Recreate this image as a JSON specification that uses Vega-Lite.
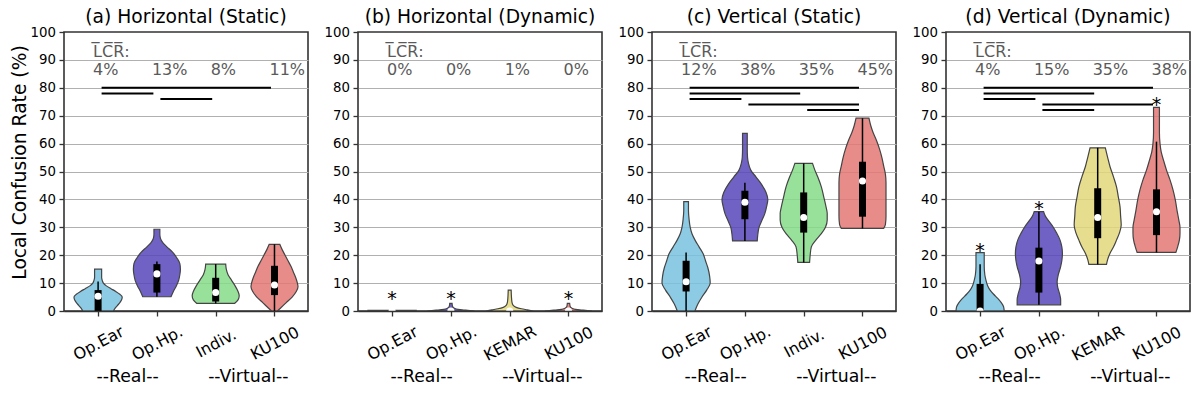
{
  "$schema": "https://vega.github.io/schema/vega-lite/v6.json",
  "padding": {"left": 9, "top": 7, "right": 5, "bottom": 5},
  "spacing": 14,
  "config": {
    "font": "DejaVu Sans",
    "view": {"stroke": "#333333", "strokeWidth": 1.6},
    "axis": {"domainColor": "#333333", "domainWidth": 1.6, "tickColor": "#333333", "tickWidth": 1.3, "tickSize": 5, "labelColor": "#000000", "titleColor": "#000000", "labelFont": "DejaVu Sans", "titleFont": "DejaVu Sans", "titleFontWeight": "normal"},
    "title": {"fontSize": 18.7, "fontWeight": "normal", "font": "DejaVu Sans", "offset": -2, "baseline": "alphabetic", "frame": "group", "color": "#000000"}
  },
  "datasets": {
    "violin": [
      {"p":"a","g":"Op.Ear","i":0,"v":0,"w":0.26},{"p":"a","g":"Op.Ear","i":0,"v":1,"w":0.29},{"p":"a","g":"Op.Ear","i":0,"v":2,"w":0.33},{"p":"a","g":"Op.Ear","i":0,"v":3,"w":0.37},{"p":"a","g":"Op.Ear","i":0,"v":4,"w":0.40},{"p":"a","g":"Op.Ear","i":0,"v":5,"w":0.41},{"p":"a","g":"Op.Ear","i":0,"v":6,"w":0.37},{"p":"a","g":"Op.Ear","i":0,"v":7,"w":0.30},{"p":"a","g":"Op.Ear","i":0,"v":8,"w":0.22},{"p":"a","g":"Op.Ear","i":0,"v":9,"w":0.14},{"p":"a","g":"Op.Ear","i":0,"v":10,"w":0.09},{"p":"a","g":"Op.Ear","i":0,"v":11,"w":0.07},{"p":"a","g":"Op.Ear","i":0,"v":12,"w":0.06},{"p":"a","g":"Op.Ear","i":0,"v":13.5,"w":0.06},{"p":"a","g":"Op.Ear","i":0,"v":15,"w":0.06},
      {"p":"a","g":"Op.Hp.","i":1,"v":5.1,"w":0.24},{"p":"a","g":"Op.Hp.","i":1,"v":7,"w":0.28},{"p":"a","g":"Op.Hp.","i":1,"v":9,"w":0.33},{"p":"a","g":"Op.Hp.","i":1,"v":11,"w":0.37},{"p":"a","g":"Op.Hp.","i":1,"v":13,"w":0.39},{"p":"a","g":"Op.Hp.","i":1,"v":15,"w":0.40},{"p":"a","g":"Op.Hp.","i":1,"v":17,"w":0.39},{"p":"a","g":"Op.Hp.","i":1,"v":19,"w":0.34},{"p":"a","g":"Op.Hp.","i":1,"v":21,"w":0.27},{"p":"a","g":"Op.Hp.","i":1,"v":23,"w":0.17},{"p":"a","g":"Op.Hp.","i":1,"v":24.5,"w":0.10},{"p":"a","g":"Op.Hp.","i":1,"v":26,"w":0.06},{"p":"a","g":"Op.Hp.","i":1,"v":27.5,"w":0.05},{"p":"a","g":"Op.Hp.","i":1,"v":29.3,"w":0.05},
      {"p":"a","g":"Indiv.","i":2,"v":2.7,"w":0.32},{"p":"a","g":"Indiv.","i":2,"v":4,"w":0.38},{"p":"a","g":"Indiv.","i":2,"v":5.5,"w":0.40},{"p":"a","g":"Indiv.","i":2,"v":7,"w":0.38},{"p":"a","g":"Indiv.","i":2,"v":9,"w":0.33},{"p":"a","g":"Indiv.","i":2,"v":11,"w":0.27},{"p":"a","g":"Indiv.","i":2,"v":13,"w":0.21},{"p":"a","g":"Indiv.","i":2,"v":15,"w":0.18},{"p":"a","g":"Indiv.","i":2,"v":16.8,"w":0.17},
      {"p":"a","g":"KU100","i":3,"v":0,"w":0.05},{"p":"a","g":"KU100","i":3,"v":1,"w":0.10},{"p":"a","g":"KU100","i":3,"v":3,"w":0.20},{"p":"a","g":"KU100","i":3,"v":5,"w":0.30},{"p":"a","g":"KU100","i":3,"v":7,"w":0.37},{"p":"a","g":"KU100","i":3,"v":8.7,"w":0.40},{"p":"a","g":"KU100","i":3,"v":10,"w":0.39},{"p":"a","g":"KU100","i":3,"v":12,"w":0.36},{"p":"a","g":"KU100","i":3,"v":14,"w":0.32},{"p":"a","g":"KU100","i":3,"v":16,"w":0.28},{"p":"a","g":"KU100","i":3,"v":18,"w":0.23},{"p":"a","g":"KU100","i":3,"v":20,"w":0.18},{"p":"a","g":"KU100","i":3,"v":22,"w":0.13},{"p":"a","g":"KU100","i":3,"v":23.9,"w":0.09},
      {"p":"b","g":"Op.Ear","i":0,"v":0,"w":0.41},{"p":"b","g":"Op.Ear","i":0,"v":0.2,"w":0.41},
      {"p":"b","g":"Op.Hp.","i":1,"v":0,"w":0.40},{"p":"b","g":"Op.Hp.","i":1,"v":0.3,"w":0.25},{"p":"b","g":"Op.Hp.","i":1,"v":0.6,"w":0.12},{"p":"b","g":"Op.Hp.","i":1,"v":1,"w":0.06},{"p":"b","g":"Op.Hp.","i":1,"v":1.5,"w":0.03},{"p":"b","g":"Op.Hp.","i":1,"v":2.7,"w":0.02},
      {"p":"b","g":"KEMAR","i":2,"v":0,"w":0.40},{"p":"b","g":"KEMAR","i":2,"v":0.4,"w":0.30},{"p":"b","g":"KEMAR","i":2,"v":0.8,"w":0.20},{"p":"b","g":"KEMAR","i":2,"v":1.3,"w":0.11},{"p":"b","g":"KEMAR","i":2,"v":2,"w":0.06},{"p":"b","g":"KEMAR","i":2,"v":3,"w":0.04},{"p":"b","g":"KEMAR","i":2,"v":5,"w":0.03},{"p":"b","g":"KEMAR","i":2,"v":7.5,"w":0.025},
      {"p":"b","g":"KU100","i":3,"v":0,"w":0.40},{"p":"b","g":"KU100","i":3,"v":0.3,"w":0.25},{"p":"b","g":"KU100","i":3,"v":0.6,"w":0.12},{"p":"b","g":"KU100","i":3,"v":1,"w":0.06},{"p":"b","g":"KU100","i":3,"v":1.5,"w":0.03},{"p":"b","g":"KU100","i":3,"v":2.7,"w":0.02},
      {"p":"c","g":"Op.Ear","i":0,"v":0,"w":0.15},{"p":"c","g":"Op.Ear","i":0,"v":2.5,"w":0.20},{"p":"c","g":"Op.Ear","i":0,"v":5,"w":0.27},{"p":"c","g":"Op.Ear","i":0,"v":7.5,"w":0.35},{"p":"c","g":"Op.Ear","i":0,"v":10,"w":0.41},{"p":"c","g":"Op.Ear","i":0,"v":12.5,"w":0.40},{"p":"c","g":"Op.Ear","i":0,"v":15.5,"w":0.37},{"p":"c","g":"Op.Ear","i":0,"v":18,"w":0.33},{"p":"c","g":"Op.Ear","i":0,"v":20.5,"w":0.29},{"p":"c","g":"Op.Ear","i":0,"v":23,"w":0.22},{"p":"c","g":"Op.Ear","i":0,"v":25.5,"w":0.15},{"p":"c","g":"Op.Ear","i":0,"v":27.7,"w":0.10},{"p":"c","g":"Op.Ear","i":0,"v":30,"w":0.07},{"p":"c","g":"Op.Ear","i":0,"v":33,"w":0.05},{"p":"c","g":"Op.Ear","i":0,"v":36,"w":0.04},{"p":"c","g":"Op.Ear","i":0,"v":39.2,"w":0.04},
      {"p":"c","g":"Op.Hp.","i":1,"v":25.1,"w":0.21},{"p":"c","g":"Op.Hp.","i":1,"v":27.5,"w":0.22},{"p":"c","g":"Op.Hp.","i":1,"v":30,"w":0.24},{"p":"c","g":"Op.Hp.","i":1,"v":32.5,"w":0.29},{"p":"c","g":"Op.Hp.","i":1,"v":35,"w":0.34},{"p":"c","g":"Op.Hp.","i":1,"v":37.5,"w":0.37},{"p":"c","g":"Op.Hp.","i":1,"v":40,"w":0.39},{"p":"c","g":"Op.Hp.","i":1,"v":42.5,"w":0.36},{"p":"c","g":"Op.Hp.","i":1,"v":45.5,"w":0.28},{"p":"c","g":"Op.Hp.","i":1,"v":48,"w":0.19},{"p":"c","g":"Op.Hp.","i":1,"v":50.5,"w":0.10},{"p":"c","g":"Op.Hp.","i":1,"v":53,"w":0.06},{"p":"c","g":"Op.Hp.","i":1,"v":55,"w":0.045},{"p":"c","g":"Op.Hp.","i":1,"v":58,"w":0.04},{"p":"c","g":"Op.Hp.","i":1,"v":63.7,"w":0.04},
      {"p":"c","g":"Indiv.","i":2,"v":17.4,"w":0.10},{"p":"c","g":"Indiv.","i":2,"v":20,"w":0.11},{"p":"c","g":"Indiv.","i":2,"v":23,"w":0.13},{"p":"c","g":"Indiv.","i":2,"v":25.5,"w":0.21},{"p":"c","g":"Indiv.","i":2,"v":27.7,"w":0.30},{"p":"c","g":"Indiv.","i":2,"v":30,"w":0.37},{"p":"c","g":"Indiv.","i":2,"v":32.6,"w":0.40},{"p":"c","g":"Indiv.","i":2,"v":35,"w":0.40},{"p":"c","g":"Indiv.","i":2,"v":37.3,"w":0.38},{"p":"c","g":"Indiv.","i":2,"v":41,"w":0.34},{"p":"c","g":"Indiv.","i":2,"v":44.5,"w":0.30},{"p":"c","g":"Indiv.","i":2,"v":48,"w":0.24},{"p":"c","g":"Indiv.","i":2,"v":50.5,"w":0.19},{"p":"c","g":"Indiv.","i":2,"v":52.9,"w":0.15},
      {"p":"c","g":"KU100","i":3,"v":29.6,"w":0.36},{"p":"c","g":"KU100","i":3,"v":31,"w":0.39},{"p":"c","g":"KU100","i":3,"v":34,"w":0.40},{"p":"c","g":"KU100","i":3,"v":38,"w":0.40},{"p":"c","g":"KU100","i":3,"v":42,"w":0.40},{"p":"c","g":"KU100","i":3,"v":46,"w":0.40},{"p":"c","g":"KU100","i":3,"v":49,"w":0.39},{"p":"c","g":"KU100","i":3,"v":52,"w":0.36},{"p":"c","g":"KU100","i":3,"v":55,"w":0.33},{"p":"c","g":"KU100","i":3,"v":58,"w":0.29},{"p":"c","g":"KU100","i":3,"v":61,"w":0.24},{"p":"c","g":"KU100","i":3,"v":64,"w":0.18},{"p":"c","g":"KU100","i":3,"v":66.5,"w":0.14},{"p":"c","g":"KU100","i":3,"v":69.1,"w":0.11},
      {"p":"d","g":"Op.Ear","i":0,"v":0,"w":0.41},{"p":"d","g":"Op.Ear","i":0,"v":1.5,"w":0.40},{"p":"d","g":"Op.Ear","i":0,"v":3,"w":0.36},{"p":"d","g":"Op.Ear","i":0,"v":4.5,"w":0.30},{"p":"d","g":"Op.Ear","i":0,"v":6,"w":0.23},{"p":"d","g":"Op.Ear","i":0,"v":7.5,"w":0.17},{"p":"d","g":"Op.Ear","i":0,"v":9,"w":0.13},{"p":"d","g":"Op.Ear","i":0,"v":11,"w":0.10},{"p":"d","g":"Op.Ear","i":0,"v":13,"w":0.08},{"p":"d","g":"Op.Ear","i":0,"v":16,"w":0.07},{"p":"d","g":"Op.Ear","i":0,"v":18.5,"w":0.07},{"p":"d","g":"Op.Ear","i":0,"v":20.9,"w":0.07},
      {"p":"d","g":"Op.Hp.","i":1,"v":2.2,"w":0.37},{"p":"d","g":"Op.Hp.","i":1,"v":4,"w":0.37},{"p":"d","g":"Op.Hp.","i":1,"v":6.3,"w":0.35},{"p":"d","g":"Op.Hp.","i":1,"v":8.5,"w":0.32},{"p":"d","g":"Op.Hp.","i":1,"v":10.5,"w":0.31},{"p":"d","g":"Op.Hp.","i":1,"v":13,"w":0.33},{"p":"d","g":"Op.Hp.","i":1,"v":15.9,"w":0.37},{"p":"d","g":"Op.Hp.","i":1,"v":18,"w":0.39},{"p":"d","g":"Op.Hp.","i":1,"v":20.7,"w":0.40},{"p":"d","g":"Op.Hp.","i":1,"v":23,"w":0.39},{"p":"d","g":"Op.Hp.","i":1,"v":25.4,"w":0.36},{"p":"d","g":"Op.Hp.","i":1,"v":28,"w":0.30},{"p":"d","g":"Op.Hp.","i":1,"v":30.2,"w":0.24},{"p":"d","g":"Op.Hp.","i":1,"v":32.5,"w":0.16},{"p":"d","g":"Op.Hp.","i":1,"v":34,"w":0.11},{"p":"d","g":"Op.Hp.","i":1,"v":35.6,"w":0.08},
      {"p":"d","g":"KEMAR","i":2,"v":16.7,"w":0.15},{"p":"d","g":"KEMAR","i":2,"v":18.5,"w":0.17},{"p":"d","g":"KEMAR","i":2,"v":20.7,"w":0.21},{"p":"d","g":"KEMAR","i":2,"v":23,"w":0.27},{"p":"d","g":"KEMAR","i":2,"v":25.4,"w":0.32},{"p":"d","g":"KEMAR","i":2,"v":28,"w":0.37},{"p":"d","g":"KEMAR","i":2,"v":30.8,"w":0.40},{"p":"d","g":"KEMAR","i":2,"v":34,"w":0.39},{"p":"d","g":"KEMAR","i":2,"v":37.3,"w":0.38},{"p":"d","g":"KEMAR","i":2,"v":41,"w":0.35},{"p":"d","g":"KEMAR","i":2,"v":44.5,"w":0.32},{"p":"d","g":"KEMAR","i":2,"v":48,"w":0.27},{"p":"d","g":"KEMAR","i":2,"v":51.7,"w":0.21},{"p":"d","g":"KEMAR","i":2,"v":55,"w":0.17},{"p":"d","g":"KEMAR","i":2,"v":58.5,"w":0.13},
      {"p":"d","g":"KU100","i":3,"v":21,"w":0.33},{"p":"d","g":"KU100","i":3,"v":23,"w":0.36},{"p":"d","g":"KU100","i":3,"v":25.5,"w":0.39},{"p":"d","g":"KU100","i":3,"v":28,"w":0.40},{"p":"d","g":"KU100","i":3,"v":30,"w":0.40},{"p":"d","g":"KU100","i":3,"v":32.6,"w":0.38},{"p":"d","g":"KU100","i":3,"v":36,"w":0.35},{"p":"d","g":"KU100","i":3,"v":39.8,"w":0.32},{"p":"d","g":"KU100","i":3,"v":43.5,"w":0.28},{"p":"d","g":"KU100","i":3,"v":47,"w":0.23},{"p":"d","g":"KU100","i":3,"v":50.5,"w":0.17},{"p":"d","g":"KU100","i":3,"v":54,"w":0.12},{"p":"d","g":"KU100","i":3,"v":57,"w":0.08},{"p":"d","g":"KU100","i":3,"v":60,"w":0.06},{"p":"d","g":"KU100","i":3,"v":64,"w":0.05},{"p":"d","g":"KU100","i":3,"v":68,"w":0.05},{"p":"d","g":"KU100","i":3,"v":73,"w":0.05}
    ],
    "box": [
      {"p":"a","i":0,"lo":0,"q1":0,"med":5.3,"q3":7.5,"hi":10.6},
      {"p":"a","i":1,"lo":5.1,"q1":6.6,"med":13.3,"q3":16.8,"hi":17.7},
      {"p":"a","i":2,"lo":2.7,"q1":3.4,"med":6.6,"q3":11.9,"hi":16.8},
      {"p":"a","i":3,"lo":0,"q1":5.7,"med":9.3,"q3":16.2,"hi":23.9},
      {"p":"b","i":0,"lo":0,"q1":0,"med":0,"q3":0,"hi":0},
      {"p":"b","i":1,"lo":0,"q1":0,"med":0,"q3":0,"hi":0},
      {"p":"b","i":2,"lo":0,"q1":0,"med":0,"q3":0,"hi":0},
      {"p":"b","i":3,"lo":0,"q1":0,"med":0,"q3":0,"hi":0},
      {"p":"c","i":0,"lo":0,"q1":7.0,"med":10.5,"q3":18.0,"hi":21.0},
      {"p":"c","i":1,"lo":25.1,"q1":32.9,"med":39.0,"q3":43.1,"hi":46.0},
      {"p":"c","i":2,"lo":17.4,"q1":28.1,"med":33.5,"q3":42.5,"hi":52.9},
      {"p":"c","i":3,"lo":29.6,"q1":33.8,"med":46.6,"q3":53.5,"hi":69.1},
      {"p":"d","i":0,"lo":0,"q1":0,"med":0,"q3":9.7,"hi":16.8},
      {"p":"d","i":1,"lo":2.2,"q1":6.6,"med":17.9,"q3":22.7,"hi":35.6},
      {"p":"d","i":2,"lo":16.7,"q1":26.1,"med":33.5,"q3":44.0,"hi":58.5},
      {"p":"d","i":3,"lo":21.0,"q1":27.2,"med":35.6,"q3":43.6,"hi":60.7}
    ],
    "sig": [
      {"p":"a","from":0,"to":3,"y":80},{"p":"a","from":0,"to":1,"y":78},{"p":"a","from":1,"to":2,"y":76},
      {"p":"c","from":0,"to":3,"y":80},{"p":"c","from":0,"to":2,"y":78},{"p":"c","from":0,"to":1,"y":76},{"p":"c","from":1,"to":3,"y":74},{"p":"c","from":2,"to":3,"y":72},
      {"p":"d","from":0,"to":3,"y":80},{"p":"d","from":0,"to":2,"y":78},{"p":"d","from":0,"to":1,"y":76},{"p":"d","from":1,"to":3,"y":74},{"p":"d","from":1,"to":2,"y":72}
    ],
    "lcr": [
      {"p":"a","i":0,"r":0.04},{"p":"a","i":1,"r":0.13},{"p":"a","i":2,"r":0.08},{"p":"a","i":3,"r":0.11},
      {"p":"b","i":0,"r":0.0},{"p":"b","i":1,"r":0.0},{"p":"b","i":2,"r":0.01},{"p":"b","i":3,"r":0.0},
      {"p":"c","i":0,"r":0.12},{"p":"c","i":1,"r":0.38},{"p":"c","i":2,"r":0.35},{"p":"c","i":3,"r":0.45},
      {"p":"d","i":0,"r":0.04},{"p":"d","i":1,"r":0.15},{"p":"d","i":2,"r":0.35},{"p":"d","i":3,"r":0.38}
    ],
    "star": [
      {"p":"b","i":0,"y":6.0},{"p":"b","i":1,"y":6.0},{"p":"b","i":3,"y":6.0},
      {"p":"d","i":0,"y":23.4},{"p":"d","i":1,"y":38.3},{"p":"d","i":3,"y":75.6}
    ],
    "hdr": [{"p":"a","t":"L̅C̅R̅:"},{"p":"b","t":"L̅C̅R̅:"},{"p":"c","t":"L̅C̅R̅:"},{"p":"d","t":"L̅C̅R̅:"}]
  },
  "hconcat": [
    {
      "width": 244, "height": 279,
      "title": "(a) Horizontal (Static)",
      "resolve": {"axis": {"x": "independent", "y": "independent"}},
      "layer": [
        {"data": {"name": "violin"}, "transform": [{"filter": "datum.p == 'a'"}, {"calculate": "datum.i - datum.w", "as": "xl"}, {"calculate": "datum.i + datum.w", "as": "xr"}],
         "mark": {"type": "area", "orient": "horizontal", "interpolate": "monotone", "stroke": "#444444", "strokeWidth": 1.2, "fillOpacity": 0.85, "clip": true},
         "encoding": {
           "y": {"field": "v", "type": "quantitative", "scale": {"domain": [0, 100], "nice": false}, "axis": {"values": [0,10,20,30,40,50,60,70,80,90,100], "grid": true, "gridColor": {"condition": {"test": "datum.value <= 0 || datum.value >= 100", "value": "rgba(0,0,0,0)"}, "value": "#b0b0b0"}, "gridWidth": 1.1, "domain": false, "labelFontSize": 13.3, "labelPadding": 3.5, "title": "Local Confusion Rate (%)", "titleFontSize": 18.7, "titleX": -39, "titleY": 130, "titleBaseline": "alphabetic", "titleAlign": "center", "titleAngle": -90}},
           "x": {"field": "xl", "type": "quantitative", "scale": {"domain": [-0.58, 3.57], "nice": false, "zero": false}, "axis": {"values": [0,1,2,3], "labelExpr": "['Op.Ear','Op.Hp.','Indiv.','KU100'][datum.value]", "labelAngle": -28, "labelAlign": "center", "labelBaseline": "middle", "labelPadding": 27, "labelFontSize": 16, "labelOverlap": false, "labelFlush": false, "labelBound": false, "grid": false, "zindex": 1, "title": "--Real--\u00a0\u00a0\u00a0\u00a0\u00a0\u00a0\u00a0\u00a0\u00a0--Virtual--", "titleFontSize": 17.3, "titleX": 32, "titleY": 70, "titleAlign": "left", "titleBaseline": "alphabetic"}},
           "x2": {"field": "xr"},
           "color": {"field": "g", "type": "nominal", "scale": {"domain": ["Op.Ear", "Op.Hp.", "Indiv.", "KEMAR", "KU100"], "range": ["#79C2DF", "#5647BA", "#86DC89", "#E3D77A", "#E47875"]}, "legend": null}
         }},
        {"data": {"name": "box"}, "transform": [{"filter": "datum.p == 'a'"}], "mark": {"type": "rule", "color": "#000000", "strokeWidth": 1.5},
         "encoding": {"x": {"field": "i", "type": "quantitative", "axis": null}, "y": {"field": "lo", "type": "quantitative", "axis": null}, "y2": {"field": "hi"}}},
        {"data": {"name": "box"}, "transform": [{"filter": "datum.p == 'a'"}], "mark": {"type": "rule", "color": "#000000", "strokeWidth": 7, "strokeCap": "butt"},
         "encoding": {"x": {"field": "i", "type": "quantitative", "axis": null}, "y": {"field": "q1", "type": "quantitative", "axis": null}, "y2": {"field": "q3"}}},
        {"data": {"name": "box"}, "transform": [{"filter": "datum.p == 'a'"}], "mark": {"type": "point", "filled": true, "color": "#ffffff", "opacity": 1, "size": 50, "clip": true},
         "encoding": {"x": {"field": "i", "type": "quantitative", "axis": null}, "y": {"field": "med", "type": "quantitative", "axis": null}}},
        {"data": {"name": "sig"}, "transform": [{"filter": "datum.p == 'a'"}], "mark": {"type": "rule", "color": "#000000", "strokeWidth": 2, "xOffset": 3.5, "x2Offset": -3.5},
         "encoding": {"x": {"field": "from", "type": "quantitative", "axis": null}, "x2": {"field": "to"}, "y": {"field": "y", "type": "quantitative", "axis": null}}},
        {"data": {"name": "lcr"}, "transform": [{"filter": "datum.p == 'a'"}], "mark": {"type": "text", "align": "left", "baseline": "alphabetic", "dx": -5, "fontSize": 16, "color": "#5a5a5a"},
         "encoding": {"x": {"field": "i", "type": "quantitative", "axis": null}, "y": {"datum": 84.7, "type": "quantitative", "axis": null}, "text": {"field": "r", "type": "quantitative", "format": ".0%"}}},
        {"data": {"name": "hdr"}, "transform": [{"filter": "datum.p == 'a'"}], "mark": {"type": "text", "align": "left", "baseline": "alphabetic", "dx": -5, "fontSize": 16, "color": "#5a5a5a"},
         "encoding": {"x": {"datum": 0, "type": "quantitative", "axis": null}, "y": {"datum": 91, "type": "quantitative", "axis": null}, "text": {"field": "t"}}}
      ]
    },
    {
      "width": 244, "height": 279,
      "title": "(b) Horizontal (Dynamic)",
      "resolve": {"axis": {"x": "independent", "y": "independent"}},
      "layer": [
        {"data": {"name": "violin"}, "transform": [{"filter": "datum.p == 'b'"}, {"calculate": "datum.i - datum.w", "as": "xl"}, {"calculate": "datum.i + datum.w", "as": "xr"}],
         "mark": {"type": "area", "orient": "horizontal", "interpolate": "monotone", "stroke": "#444444", "strokeWidth": 1.2, "fillOpacity": 0.85, "clip": true},
         "encoding": {
           "y": {"field": "v", "type": "quantitative", "scale": {"domain": [0, 100], "nice": false}, "axis": {"values": [0,10,20,30,40,50,60,70,80,90,100], "grid": true, "gridColor": {"condition": {"test": "datum.value <= 0 || datum.value >= 100", "value": "rgba(0,0,0,0)"}, "value": "#b0b0b0"}, "gridWidth": 1.1, "domain": false, "labelFontSize": 13.3, "labelPadding": 3.5, "title": null}},
           "x": {"field": "xl", "type": "quantitative", "scale": {"domain": [-0.58, 3.57], "nice": false, "zero": false}, "axis": {"values": [0,1,2,3], "labelExpr": "['Op.Ear','Op.Hp.','KEMAR','KU100'][datum.value]", "labelAngle": -28, "labelAlign": "center", "labelBaseline": "middle", "labelPadding": 27, "labelFontSize": 16, "labelOverlap": false, "labelFlush": false, "labelBound": false, "grid": false, "zindex": 1, "title": "--Real--\u00a0\u00a0\u00a0\u00a0\u00a0\u00a0\u00a0\u00a0\u00a0--Virtual--", "titleFontSize": 17.3, "titleX": 32, "titleY": 70, "titleAlign": "left", "titleBaseline": "alphabetic"}},
           "x2": {"field": "xr"},
           "color": {"field": "g", "type": "nominal", "scale": {"domain": ["Op.Ear", "Op.Hp.", "Indiv.", "KEMAR", "KU100"], "range": ["#79C2DF", "#5647BA", "#86DC89", "#E3D77A", "#E47875"]}, "legend": null}
         }},
        {"data": {"name": "box"}, "transform": [{"filter": "datum.p == 'b'"}], "mark": {"type": "point", "filled": true, "color": "#ffffff", "opacity": 1, "size": 50, "clip": true},
         "encoding": {"x": {"field": "i", "type": "quantitative", "axis": null}, "y": {"field": "med", "type": "quantitative", "axis": null}}},
        {"data": {"name": "lcr"}, "transform": [{"filter": "datum.p == 'b'"}], "mark": {"type": "text", "align": "left", "baseline": "alphabetic", "dx": -5, "fontSize": 16, "color": "#5a5a5a"},
         "encoding": {"x": {"field": "i", "type": "quantitative", "axis": null}, "y": {"datum": 84.7, "type": "quantitative", "axis": null}, "text": {"field": "r", "type": "quantitative", "format": ".0%"}}},
        {"data": {"name": "hdr"}, "transform": [{"filter": "datum.p == 'b'"}], "mark": {"type": "text", "align": "left", "baseline": "alphabetic", "dx": -5, "fontSize": 16, "color": "#5a5a5a"},
         "encoding": {"x": {"datum": 0, "type": "quantitative", "axis": null}, "y": {"datum": 91, "type": "quantitative", "axis": null}, "text": {"field": "t"}}},
        {"data": {"name": "star"}, "transform": [{"filter": "datum.p == 'b'"}], "mark": {"type": "text", "align": "center", "baseline": "middle", "dy": 5, "fontSize": 19, "color": "#000000"},
         "encoding": {"x": {"field": "i", "type": "quantitative", "axis": null}, "y": {"field": "y", "type": "quantitative", "axis": null}, "text": {"value": "*"}}}
      ]
    },
    {
      "width": 244, "height": 279,
      "title": "(c) Vertical (Static)",
      "resolve": {"axis": {"x": "independent", "y": "independent"}},
      "layer": [
        {"data": {"name": "violin"}, "transform": [{"filter": "datum.p == 'c'"}, {"calculate": "datum.i - datum.w", "as": "xl"}, {"calculate": "datum.i + datum.w", "as": "xr"}],
         "mark": {"type": "area", "orient": "horizontal", "interpolate": "monotone", "stroke": "#444444", "strokeWidth": 1.2, "fillOpacity": 0.85, "clip": true},
         "encoding": {
           "y": {"field": "v", "type": "quantitative", "scale": {"domain": [0, 100], "nice": false}, "axis": {"values": [0,10,20,30,40,50,60,70,80,90,100], "grid": true, "gridColor": {"condition": {"test": "datum.value <= 0 || datum.value >= 100", "value": "rgba(0,0,0,0)"}, "value": "#b0b0b0"}, "gridWidth": 1.1, "domain": false, "labelFontSize": 13.3, "labelPadding": 3.5, "title": null}},
           "x": {"field": "xl", "type": "quantitative", "scale": {"domain": [-0.58, 3.57], "nice": false, "zero": false}, "axis": {"values": [0,1,2,3], "labelExpr": "['Op.Ear','Op.Hp.','Indiv.','KU100'][datum.value]", "labelAngle": -28, "labelAlign": "center", "labelBaseline": "middle", "labelPadding": 27, "labelFontSize": 16, "labelOverlap": false, "labelFlush": false, "labelBound": false, "grid": false, "zindex": 1, "title": "--Real--\u00a0\u00a0\u00a0\u00a0\u00a0\u00a0\u00a0\u00a0\u00a0--Virtual--", "titleFontSize": 17.3, "titleX": 32, "titleY": 70, "titleAlign": "left", "titleBaseline": "alphabetic"}},
           "x2": {"field": "xr"},
           "color": {"field": "g", "type": "nominal", "scale": {"domain": ["Op.Ear", "Op.Hp.", "Indiv.", "KEMAR", "KU100"], "range": ["#79C2DF", "#5647BA", "#86DC89", "#E3D77A", "#E47875"]}, "legend": null}
         }},
        {"data": {"name": "box"}, "transform": [{"filter": "datum.p == 'c'"}], "mark": {"type": "rule", "color": "#000000", "strokeWidth": 1.5},
         "encoding": {"x": {"field": "i", "type": "quantitative", "axis": null}, "y": {"field": "lo", "type": "quantitative", "axis": null}, "y2": {"field": "hi"}}},
        {"data": {"name": "box"}, "transform": [{"filter": "datum.p == 'c'"}], "mark": {"type": "rule", "color": "#000000", "strokeWidth": 7, "strokeCap": "butt"},
         "encoding": {"x": {"field": "i", "type": "quantitative", "axis": null}, "y": {"field": "q1", "type": "quantitative", "axis": null}, "y2": {"field": "q3"}}},
        {"data": {"name": "box"}, "transform": [{"filter": "datum.p == 'c'"}], "mark": {"type": "point", "filled": true, "color": "#ffffff", "opacity": 1, "size": 50, "clip": true},
         "encoding": {"x": {"field": "i", "type": "quantitative", "axis": null}, "y": {"field": "med", "type": "quantitative", "axis": null}}},
        {"data": {"name": "sig"}, "transform": [{"filter": "datum.p == 'c'"}], "mark": {"type": "rule", "color": "#000000", "strokeWidth": 2, "xOffset": 3.5, "x2Offset": -3.5},
         "encoding": {"x": {"field": "from", "type": "quantitative", "axis": null}, "x2": {"field": "to"}, "y": {"field": "y", "type": "quantitative", "axis": null}}},
        {"data": {"name": "lcr"}, "transform": [{"filter": "datum.p == 'c'"}], "mark": {"type": "text", "align": "left", "baseline": "alphabetic", "dx": -5, "fontSize": 16, "color": "#5a5a5a"},
         "encoding": {"x": {"field": "i", "type": "quantitative", "axis": null}, "y": {"datum": 84.7, "type": "quantitative", "axis": null}, "text": {"field": "r", "type": "quantitative", "format": ".0%"}}},
        {"data": {"name": "hdr"}, "transform": [{"filter": "datum.p == 'c'"}], "mark": {"type": "text", "align": "left", "baseline": "alphabetic", "dx": -5, "fontSize": 16, "color": "#5a5a5a"},
         "encoding": {"x": {"datum": 0, "type": "quantitative", "axis": null}, "y": {"datum": 91, "type": "quantitative", "axis": null}, "text": {"field": "t"}}}
      ]
    },
    {
      "width": 244, "height": 279,
      "title": "(d) Vertical (Dynamic)",
      "resolve": {"axis": {"x": "independent", "y": "independent"}},
      "layer": [
        {"data": {"name": "violin"}, "transform": [{"filter": "datum.p == 'd'"}, {"calculate": "datum.i - datum.w", "as": "xl"}, {"calculate": "datum.i + datum.w", "as": "xr"}],
         "mark": {"type": "area", "orient": "horizontal", "interpolate": "monotone", "stroke": "#444444", "strokeWidth": 1.2, "fillOpacity": 0.85, "clip": true},
         "encoding": {
           "y": {"field": "v", "type": "quantitative", "scale": {"domain": [0, 100], "nice": false}, "axis": {"values": [0,10,20,30,40,50,60,70,80,90,100], "grid": true, "gridColor": {"condition": {"test": "datum.value <= 0 || datum.value >= 100", "value": "rgba(0,0,0,0)"}, "value": "#b0b0b0"}, "gridWidth": 1.1, "domain": false, "labelFontSize": 13.3, "labelPadding": 3.5, "title": null}},
           "x": {"field": "xl", "type": "quantitative", "scale": {"domain": [-0.58, 3.57], "nice": false, "zero": false}, "axis": {"values": [0,1,2,3], "labelExpr": "['Op.Ear','Op.Hp.','KEMAR','KU100'][datum.value]", "labelAngle": -28, "labelAlign": "center", "labelBaseline": "middle", "labelPadding": 27, "labelFontSize": 16, "labelOverlap": false, "labelFlush": false, "labelBound": false, "grid": false, "zindex": 1, "title": "--Real--\u00a0\u00a0\u00a0\u00a0\u00a0\u00a0\u00a0\u00a0\u00a0--Virtual--", "titleFontSize": 17.3, "titleX": 32, "titleY": 70, "titleAlign": "left", "titleBaseline": "alphabetic"}},
           "x2": {"field": "xr"},
           "color": {"field": "g", "type": "nominal", "scale": {"domain": ["Op.Ear", "Op.Hp.", "Indiv.", "KEMAR", "KU100"], "range": ["#79C2DF", "#5647BA", "#86DC89", "#E3D77A", "#E47875"]}, "legend": null}
         }},
        {"data": {"name": "box"}, "transform": [{"filter": "datum.p == 'd'"}], "mark": {"type": "rule", "color": "#000000", "strokeWidth": 1.5},
         "encoding": {"x": {"field": "i", "type": "quantitative", "axis": null}, "y": {"field": "lo", "type": "quantitative", "axis": null}, "y2": {"field": "hi"}}},
        {"data": {"name": "box"}, "transform": [{"filter": "datum.p == 'd'"}], "mark": {"type": "rule", "color": "#000000", "strokeWidth": 7, "strokeCap": "butt"},
         "encoding": {"x": {"field": "i", "type": "quantitative", "axis": null}, "y": {"field": "q1", "type": "quantitative", "axis": null}, "y2": {"field": "q3"}}},
        {"data": {"name": "box"}, "transform": [{"filter": "datum.p == 'd'"}], "mark": {"type": "point", "filled": true, "color": "#ffffff", "opacity": 1, "size": 50, "clip": true},
         "encoding": {"x": {"field": "i", "type": "quantitative", "axis": null}, "y": {"field": "med", "type": "quantitative", "axis": null}}},
        {"data": {"name": "sig"}, "transform": [{"filter": "datum.p == 'd'"}], "mark": {"type": "rule", "color": "#000000", "strokeWidth": 2, "xOffset": 3.5, "x2Offset": -3.5},
         "encoding": {"x": {"field": "from", "type": "quantitative", "axis": null}, "x2": {"field": "to"}, "y": {"field": "y", "type": "quantitative", "axis": null}}},
        {"data": {"name": "lcr"}, "transform": [{"filter": "datum.p == 'd'"}], "mark": {"type": "text", "align": "left", "baseline": "alphabetic", "dx": -5, "fontSize": 16, "color": "#5a5a5a"},
         "encoding": {"x": {"field": "i", "type": "quantitative", "axis": null}, "y": {"datum": 84.7, "type": "quantitative", "axis": null}, "text": {"field": "r", "type": "quantitative", "format": ".0%"}}},
        {"data": {"name": "hdr"}, "transform": [{"filter": "datum.p == 'd'"}], "mark": {"type": "text", "align": "left", "baseline": "alphabetic", "dx": -5, "fontSize": 16, "color": "#5a5a5a"},
         "encoding": {"x": {"datum": 0, "type": "quantitative", "axis": null}, "y": {"datum": 91, "type": "quantitative", "axis": null}, "text": {"field": "t"}}},
        {"data": {"name": "star"}, "transform": [{"filter": "datum.p == 'd'"}], "mark": {"type": "text", "align": "center", "baseline": "middle", "dy": 5, "fontSize": 19, "color": "#000000"},
         "encoding": {"x": {"field": "i", "type": "quantitative", "axis": null}, "y": {"field": "y", "type": "quantitative", "axis": null}, "text": {"value": "*"}}}
      ]
    }
  ]
}
